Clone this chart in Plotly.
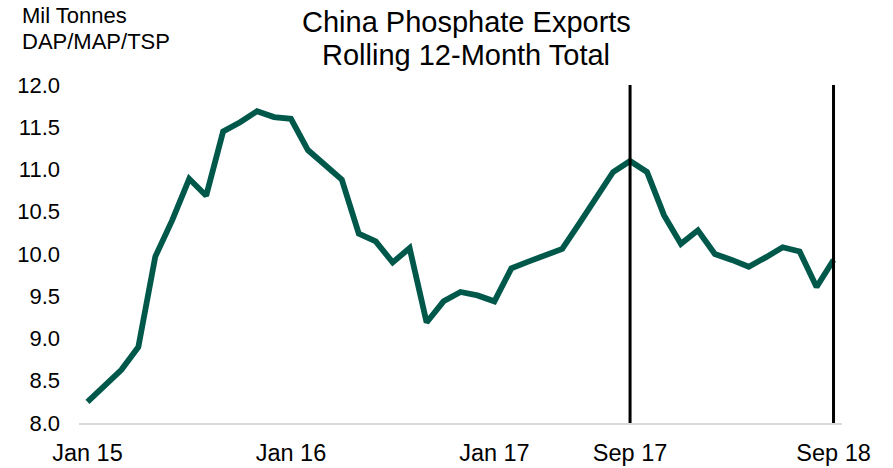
import plotly.graph_objects as go

# ---- data ----
month_names = ["Jan", "Feb", "Mar", "Apr", "May", "Jun",
               "Jul", "Aug", "Sep", "Oct", "Nov", "Dec"]
years = ["15", "16", "17", "18"]
months = [f"{m} {y}" for y in years for m in month_names][:45]  # Jan 15 .. Sep 18

exports_12m = [
    8.25, 8.44, 8.63, 8.90, 9.97, 10.40, 10.89, 10.69, 11.45, 11.56, 11.69, 11.62,   # 2015
    11.60, 11.23, 11.05, 10.88, 10.24, 10.15, 9.90, 10.07, 9.19, 9.44, 9.55, 9.51,   # 2016
    9.44, 9.83, 9.91, 9.99, 10.06, 10.36, 10.66, 10.97, 11.10, 10.97, 10.46, 10.12,  # 2017
    10.28, 10.00, 9.93, 9.85, 9.96, 10.08, 10.03, 9.61, 9.93,                        # 2018
]

tick_labels = ["Jan 15", "Jan 16", "Jan 17", "Sep 17", "Sep 18"]
marker_months = ["Sep 17", "Sep 18"]

title_lines = ["China Phosphate Exports", "Rolling 12-Month Total"]
unit_lines = ["Mil Tonnes", "DAP/MAP/TSP"]

# ---- figure ----
x_idx = list(range(len(months)))
FONT = "Liberation Sans, Arial, sans-serif"
LINE_COLOR = "#00584B"

fig = go.Figure()
fig.add_trace(go.Scatter(
    x=x_idx, y=exports_12m, mode="lines",
    line=dict(color=LINE_COLOR, width=5.8),
    hoverinfo="skip", showlegend=False,
))

for m in marker_months:
    i = months.index(m)
    fig.add_shape(type="line", xref="x", yref="paper", x0=i, x1=i, y0=0, y1=1,
                  line=dict(color="#000000", width=3), layer="above")

fig.update_layout(
    width=893, height=468,
    margin=dict(l=79, r=51, t=85, b=45, autoexpand=False),
    paper_bgcolor="white", plot_bgcolor="white",
    font=dict(family=FONT, size=22, color="#000000"),
    showlegend=False,
)

fig.update_xaxes(
    range=[-0.5, len(months) - 0.5],
    tickmode="array",
    tickvals=[months.index(t) for t in tick_labels],
    ticktext=tick_labels,
    showgrid=False, zeroline=False,
    showline=True, linecolor="#D9D9D9", linewidth=2,
    ticks="", ticklabelstandoff=8, automargin=False,
    tickfont=dict(family=FONT, size=23.5, color="#000000"),
)
fig.update_yaxes(
    range=[8.0, 12.0], dtick=0.5, tick0=8.0, tickformat=".1f",
    showgrid=False, zeroline=False, showline=False,
    ticks="", ticklabelstandoff=18, automargin=False,
    tickfont=dict(family=FONT, size=22, color="#000000"),
)

PW = 893 - 79 - 51
PH = 468 - 85 - 45

def px_x(p):
    return (p - 79) / PW

def px_y(q):
    return (468 - 45 - q) / PH

for txt, yc in zip(title_lines, [21.7, 55.0]):
    fig.add_annotation(text=txt, xref="paper", yref="paper", x=px_x(466), y=px_y(yc),
                       xanchor="center", yanchor="middle", showarrow=False,
                       font=dict(family=FONT, size=29, color="#000000"))
for txt, yc in zip(unit_lines, [16.0, 41.0]):
    fig.add_annotation(text=txt, xref="paper", yref="paper", x=px_x(20), y=px_y(yc),
                       xanchor="left", yanchor="middle", showarrow=False,
                       font=dict(family=FONT, size=22, color="#000000"))

fig.write_html("out.html")
